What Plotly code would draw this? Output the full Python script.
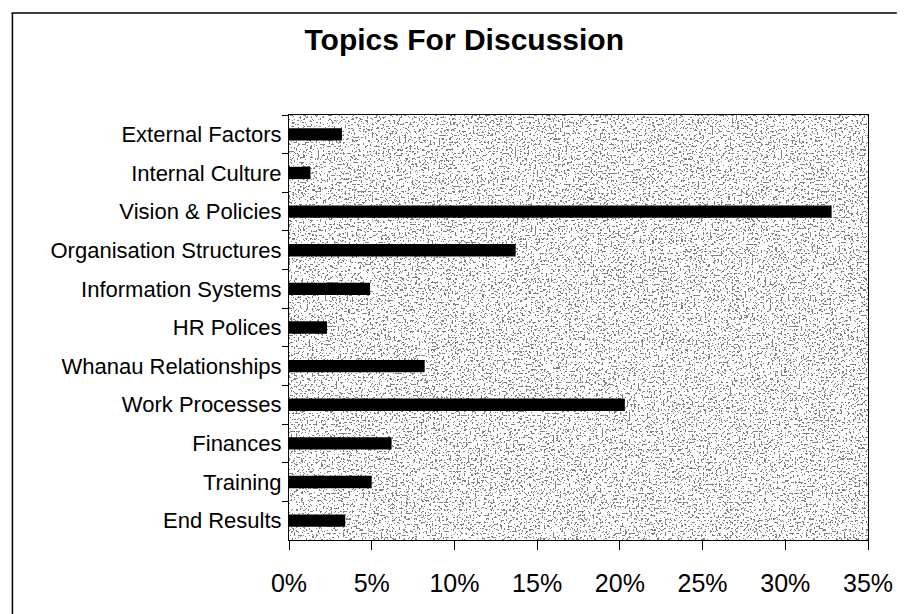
import base64
import plotly.graph_objects as go

# Share of discussion topics (percent), listed top to bottom
topics = [
    "External Factors", "Internal Culture", "Vision & Policies",
    "Organisation Structures", "Information Systems", "HR Polices",
    "Whanau Relationships", "Work Processes", "Finances", "Training",
    "End Results",
]
shares = [3.2, 1.3, 32.8, 13.7, 4.9, 2.3, 8.2, 20.3, 6.2, 5.0, 3.4]
x_ticks = [0, 5, 10, 15, 20, 25, 30, 35]
x_tick_text = [f"{v}%" for v in x_ticks]

FONT = "Liberation Sans, Arial, Helvetica, sans-serif"

# Speckled fill for the plotting area, built from an SVG noise filter
dark = " ".join(["0.22"] * 8 + ["1"] * 12)
noise_svg = (
    "<svg xmlns='http://www.w3.org/2000/svg' width='582' height='425'>"
    "<filter id='n' x='0' y='0' width='100%' height='100%'>"
    "<feTurbulence type='fractalNoise' baseFrequency='0.55' numOctaves='1' seed='11'/>"
    "<feColorMatrix type='matrix' values='1 0 0 0 0  1 0 0 0 0  1 0 0 0 0  0 0 0 0 1'/>"
    "<feComponentTransfer>"
    f"<feFuncR type='discrete' tableValues='{dark}'/>"
    f"<feFuncG type='discrete' tableValues='{dark}'/>"
    f"<feFuncB type='discrete' tableValues='{dark}'/>"
    "</feComponentTransfer>"
    "</filter>"
    "<rect width='582' height='425' fill='white' filter='url(#n)'/>"
    "</svg>"
)
noise_uri = "data:image/svg+xml;base64," + base64.b64encode(noise_svg.encode()).decode()

fig = go.Figure(
    go.Bar(
        x=shares,
        y=topics,
        orientation="h",
        width=0.32,
        marker=dict(color="black", line=dict(width=0)),
        hoverinfo="x+y",
    )
)

# Frame around the chart: top edge and left edge (in paper units of the plot area)
PW, PH, L, T, B = 582, 425, 289, 115, 74
def px_x(px):
    return (px - L) / PW
def px_y(py):
    return (T + PH - py) / PH

fig.update_layout(
    width=905,
    height=614,
    margin=dict(l=L, r=905 - L - PW, t=T, b=B),
    paper_bgcolor="white",
    plot_bgcolor="#c0c0c0",
    showlegend=False,
    title=dict(
        text="<b>Topics For Discussion</b>",
        x=0.513,
        xanchor="center",
        y=0.935,
        yanchor="middle",
        font=dict(family=FONT, size=30, color="black"),
    ),
    font=dict(family=FONT, color="black"),
    images=[
        dict(
            source=noise_uri,
            xref="x domain",
            yref="y domain",
            x=0,
            y=1,
            sizex=1,
            sizey=1,
            sizing="stretch",
            xanchor="left",
            yanchor="top",
            layer="below",
        )
    ],
    shapes=[
        dict(type="line", xref="paper", yref="paper",
             x0=px_x(10), x1=px_x(900), y0=px_y(13), y1=px_y(13),
             line=dict(color="black", width=1.5)),
        dict(type="line", xref="paper", yref="paper",
             x0=px_x(11), x1=px_x(11), y0=px_y(13), y1=px_y(620),
             line=dict(color="black", width=1.5)),
    ],
)

fig.update_xaxes(
    range=[0, 35],
    tickvals=x_ticks,
    ticktext=x_tick_text,
    ticks="outside",
    ticklen=9,
    tickcolor="black",
    tickwidth=1,
    showline=True,
    linecolor="black",
    linewidth=1,
    mirror=True,
    showgrid=False,
    zeroline=False,
    ticklabelstandoff=12,
    tickfont=dict(family=FONT, size=25, color="black"),
)

fig.update_yaxes(
    autorange="reversed",
    tickson="boundaries",
    ticks="outside",
    ticklen=6,
    tickcolor="black",
    showline=True,
    linecolor="black",
    linewidth=1,
    mirror=True,
    showgrid=False,
    ticklabelstandoff=2,
    tickfont=dict(family=FONT, size=22, color="black"),
)

fig.write_html("out.html")
